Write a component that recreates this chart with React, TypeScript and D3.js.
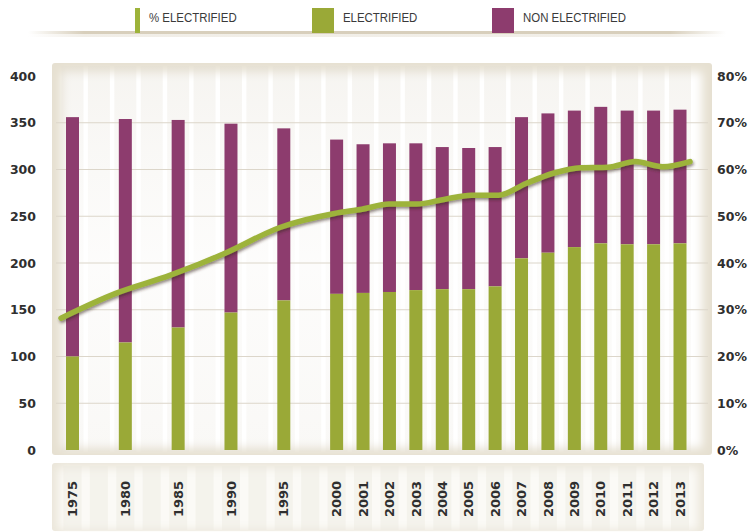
import React from "react";
import * as d3 from "d3";

const years = [1975, 1980, 1985, 1990, 1995, 2000, 2001, 2002, 2003, 2004, 2005, 2006, 2007, 2008, 2009, 2010, 2011, 2012, 2013];
const electrified = [100, 115, 131, 147, 160, 167, 168, 169, 171, 172, 172, 175, 205, 211, 217, 221, 220, 220, 221];
const total = [356, 354, 353, 349, 344, 332, 327, 328, 328, 324, 323, 324, 356, 360, 363, 367, 363, 363, 364];
const pctElectrified = [28.2, 33.5, 37.4, 42.1, 47.6, 50.6, 51.5, 52.6, 52.6, 53.6, 54.5, 54.5, 57.0, 59.2, 60.4, 60.5, 61.7, 60.6, 61.7];
const leftTicks = [0, 50, 100, 150, 200, 250, 300, 350, 400];
const rightTicks = [0, 10, 20, 30, 40, 50, 60, 70, 80];
const legendItems = ["% ELECTRIFIED", "ELECTRIFIED", "NON ELECTRIFIED"];

const GREEN = "#9aa937";
const PURPLE = "#8d3c6e";
const LINE = "#9db33a";

// slot index: five-year steps take two slots until 2000, then one slot per year
const slotOf = (y: number) => (y <= 2000 ? ((y - 1975) / 5) * 2 : 10 + (y - 2000));

export default function App() {
  const W = 749, H = 532;
  const xBar = d3.scaleLinear().domain([0, 23]).range([72.5, 680]);
  const xLine = d3.scaleLinear().domain([0, 23]).range([61, 690]);
  const y = d3.scaleLinear().domain([0, 400]).range([450, 76]);
  const yp = d3.scaleLinear().domain([0, 80]).range([450, 76]);
  const bw = 13;
  const nums = "'DejaVu Sans', sans-serif";
  const narrow = "'Liberation Sans Narrow', 'Arial Narrow', 'Liberation Sans', sans-serif";

  const lineGen = d3
    .line<number>()
    .x((_, i) => xLine(slotOf(years[i])))
    .y((d) => yp(d))
    .curve(d3.curveMonotoneX);

  const legendX = [135, 312, 492];
  const legendW = [5, 22, 22];

  return (
    <svg width={W} height={H} style={{ position: "absolute", left: 0, top: 0, background: "#fff" }}>
      <defs>
        <filter id="blur6" x="-10%" y="-10%" width="120%" height="120%">
          <feGaussianBlur stdDeviation="5" />
        </filter>
        <filter id="shadow" x="-5%" y="-20%" width="110%" height="140%">
          <feDropShadow dx="1" dy="2" stdDeviation="1.5" floodColor="#3a2a20" floodOpacity="0.55" />
        </filter>
        <linearGradient id="legLine" x1="0" x2="1" y1="0" y2="0">
          <stop offset="0" stopColor="#d8cfbc" stopOpacity="0" />
          <stop offset="0.08" stopColor="#d8cfbc" stopOpacity="1" />
          <stop offset="0.92" stopColor="#d8cfbc" stopOpacity="1" />
          <stop offset="1" stopColor="#d8cfbc" stopOpacity="0" />
        </linearGradient>
        <linearGradient id="stripe" x1="0" x2="0" y1="0" y2="1">
          <stop offset="0" stopColor="#e2ddd2" stopOpacity="0.8" />
          <stop offset="0.5" stopColor="#ebe7df" stopOpacity="0.3" />
          <stop offset="1" stopColor="#e2ddd2" stopOpacity="0.5" />
        </linearGradient>
      </defs>

      {/* legend */}
      <rect x={28} y={31} width={698} height={3} fill="url(#legLine)" />
      <rect x={28} y={34} width={698} height={3} fill="url(#legLine)" opacity={0.35} />
      {legendItems.map((t, i) => {
        const tx = legendX[i] + legendW[i] + 9;
        return (
          <g key={t}>
            <rect
              x={legendX[i]}
              y={8}
              width={legendW[i]}
              height={25}
              fill={i === 2 ? PURPLE : i === 0 ? LINE : GREEN}
            />
            <text
              transform={`translate(${tx},22) scale(0.88,1)`}
              fontFamily={narrow}
              fontSize={13}
              fill="#3a3a3a"
            >
              {t}
            </text>
          </g>
        );
      })}

      {/* plot panel */}
      <rect x={52} y={63} width={660} height={392} rx={3} fill="#e6e0d1" />
      <rect x={62} y={72} width={640} height={376} fill="#ffffff" filter="url(#blur6)" />
      {d3.range(24).map((s) => (
        <rect key={s} x={xBar(s) - 11} y={66} width={22} height={386} fill="url(#stripe)" opacity={0.4} />
      ))}
      {leftTicks.slice(1, -1).map((t) => (
        <line key={t} x1={56} x2={708} y1={y(t)} y2={y(t)} stroke="#dcd6ca" strokeWidth={1.2} />
      ))}

      {/* bars */}
      {years.map((yr, i) => {
        const cx = xBar(slotOf(yr));
        return (
          <g key={yr}>
            <rect x={cx - bw / 2} y={y(total[i])} width={bw} height={y(electrified[i]) - y(total[i])} fill={PURPLE} />
            <rect x={cx - bw / 2} y={y(electrified[i])} width={bw} height={y(0) - y(electrified[i])} fill={GREEN} />
          </g>
        );
      })}

      {/* % line */}
      <path
        d={lineGen(pctElectrified) || ""}
        fill="none"
        stroke={LINE}
        strokeWidth={5.5}
        strokeLinecap="round"
        strokeLinejoin="round"
        filter="url(#shadow)"
      />

      {/* left axis */}
      {leftTicks.map((t) => (
        <text key={t} x={36} y={y(t)} dy="0.36em" textAnchor="end" fontFamily={nums} fontWeight="bold" fontSize={12.5} fill="#2f2f2f">
          {t}
        </text>
      ))}
      {/* right axis */}
      {rightTicks.map((t) => (
        <text key={t} x={717} y={yp(t)} dy="0.36em" textAnchor="start" fontFamily={nums} fontWeight="bold" fontSize={12.5} fill="#2f2f2f">
          {t + "%"}
        </text>
      ))}

      {/* x label panel */}
      <rect x={52} y={463} width={652} height={68} rx={3} fill="#ebe6da" />
      <rect x={58} y={468} width={640} height={62} fill="#fbfaf6" filter="url(#blur6)" />
      {d3.range(24).map((s) => (
        <rect key={"s" + s} x={xBar(s) - 9} y={466} width={18} height={64} fill="#ece8df" opacity={0.4} />
      ))}
      {years.map((yr) => {
        const cx = xBar(slotOf(yr));
        return (
          <text
            key={"l" + yr}
            transform={`translate(${cx},${499}) rotate(-90)`}
            textAnchor="middle"
            dy="0.36em"
            fontFamily={nums}
            fontWeight="bold"
            fontSize={13}
            fill="#2f2f2f"
          >
            {yr}
          </text>
        );
      })}
    </svg>
  );
}
